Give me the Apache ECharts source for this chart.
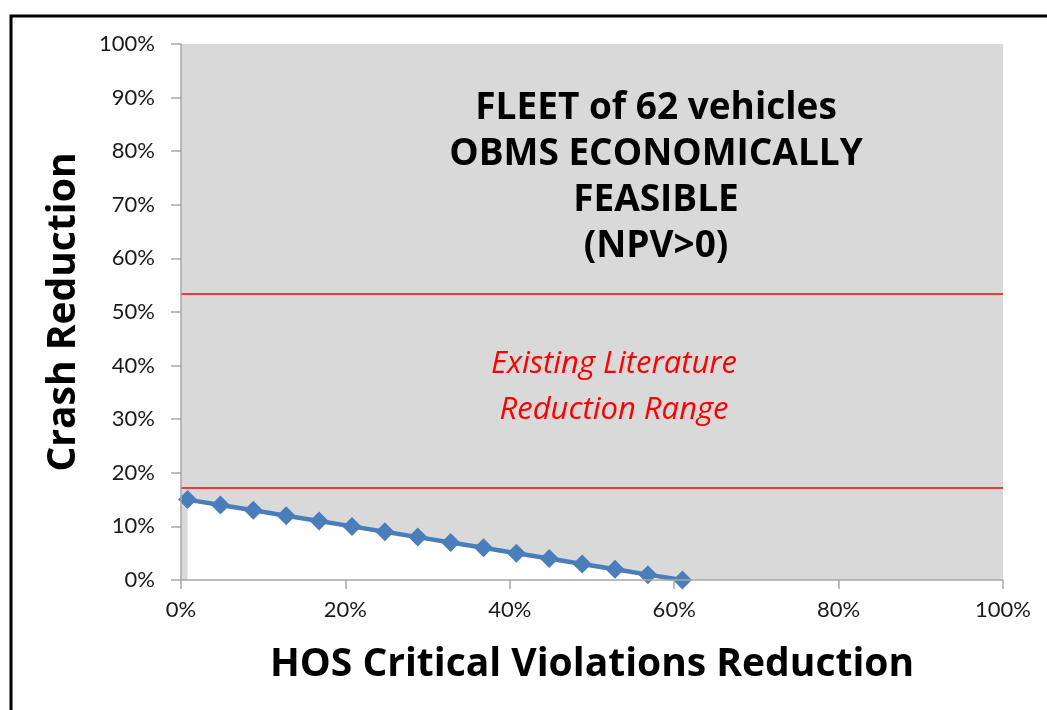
<!DOCTYPE html>
<html>
<head>
<meta charset="utf-8">
<script src="https://cdn.jsdelivr.net/npm/echarts@6/dist/echarts.min.js"></script>
<style>
  html, body { margin: 0; padding: 0; background: #ffffff; }
  #chart { width: 1047px; height: 710px; }
</style>
</head>
<body>
<div id="chart"></div>
<script>
// HOS critical violations reduction (x, %) vs crash reduction (y, %)
var hosReduction = [0.8, 4.8, 8.8, 12.8, 16.8, 20.8, 24.8, 28.8, 32.8, 36.8, 40.8, 44.8, 48.8, 52.8, 56.8, 61.0];
var crashReduction = [15, 14, 13, 12, 11, 10, 9, 8, 7, 6, 5, 4, 3, 2, 1, 0];

// existing literature reduction range (crash reduction, %)
var literatureRange = [17.3, 53.4];

var titleLines = ['FLEET of 62 vehicles', 'OBMS ECONOMICALLY', 'FEASIBLE', '(NPV>0)'];
var rangeLines = ['Existing Literature', 'Reduction Range'];

var labelFont = 'Lato, "Open Sans", sans-serif';
var boldFont = '"Open Sans", Lato, sans-serif';
var theChart = echarts.init(document.getElementById('chart'));

var points = hosReduction.map(function (x, i) { return [x, crashReduction[i]]; });

var option = {
  animation: false,
  backgroundColor: '#ffffff',
  textStyle: { fontFamily: labelFont },
  grid: {
    left: 181, right: 44, top: 44, bottom: 130,
    show: true, backgroundColor: '#d9d9d9', borderWidth: 0
  },
  xAxis: {
    type: 'value', min: 0, max: 100, interval: 20, z: 5,
    name: 'HOS Critical Violations Reduction',
    nameLocation: 'middle', nameGap: 65,
    nameTextStyle: { fontFamily: boldFont, fontWeight: 'bold', fontSize: 39, color: '#000' },
    axisLine: { show: true, lineStyle: { color: '#a6a6a6', width: 1.5 } },
    axisTick: { show: true, length: 9, lineStyle: { color: '#a6a6a6', width: 1.5 } },
    axisLabel: { margin: 19, fontSize: 22, color: '#1a1a1a', formatter: '{value}%' },
    splitLine: { show: false }
  },
  yAxis: {
    type: 'value', min: 0, max: 100, interval: 10, z: 5,
    name: 'Crash Reduction',
    nameLocation: 'middle', nameGap: 98,
    nameTextStyle: { fontFamily: boldFont, fontWeight: 'bold', fontSize: 39, color: '#000' },
    axisLine: { show: true, lineStyle: { color: '#a6a6a6', width: 1.5 } },
    axisTick: { show: true, length: 10, lineStyle: { color: '#a6a6a6', width: 1.5 } },
    axisLabel: { margin: 26, fontSize: 22, color: '#1a1a1a', formatter: '{value}%' },
    splitLine: { show: false }
  },
  series: [
    {
      type: 'line',
      data: points,
      symbol: 'diamond',
      symbolSize: 19,
      lineStyle: { color: '#4a7ebb', width: 4.5 },
      itemStyle: { color: '#4a7ebb' },
      areaStyle: { color: '#ffffff', opacity: 1, origin: 'start' },
      z: 3,
      markLine: {
        silent: true,
        symbol: 'none',
        label: { show: false },
        lineStyle: { color: '#ff0000', width: 1.5, type: 'solid' },
        data: literatureRange.map(function (v) { return { yAxis: v }; })
      }
    }
  ],
  graphic: [
    {
      type: 'rect', silent: true,
      shape: { x: 11, y: 16, width: 1200, height: 900 },
      style: { fill: null, stroke: '#000', lineWidth: 3 }
    },
    {
      type: 'text', x: 656, y: 85, silent: true,
      style: {
        text: titleLines.join('\n'), align: 'center',
        font: 'bold 37px ' + boldFont, lineHeight: 46, fill: '#000'
      }
    },
    {
      type: 'text', x: 614, y: 341, silent: true,
      style: {
        text: rangeLines.join('\n'), align: 'center',
        font: 'italic 31px ' + boldFont, lineHeight: 46, fill: '#ff0000'
      }
    }
  ]
};

theChart.setOption(option);
</script>
</body>
</html>
